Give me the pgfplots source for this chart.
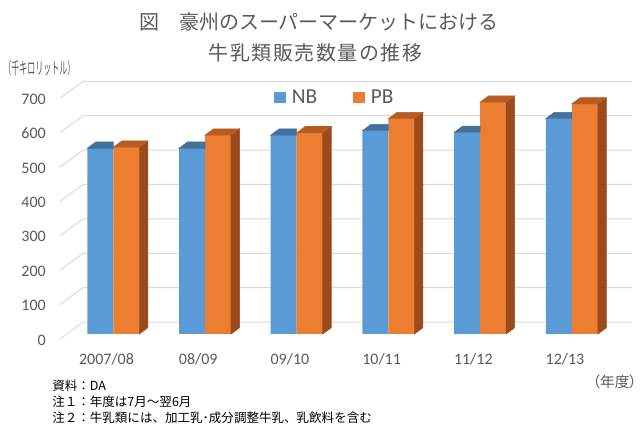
\documentclass[border=0pt]{standalone}
\usepackage{fontspec}
\setmainfont{Carlito}
\newfontfamily\jp{Noto Sans CJK JP}
\newfontfamily\jpp[RawFeature=+palt]{Noto Sans CJK JP}
\usepackage{graphicx}
\usepackage{pgfplots}
\usepackage{pgfplotstable}
\pgfplotsset{compat=1.18}
\definecolor{nbf}{HTML}{5B9BD5}
\definecolor{nbt}{HTML}{41719C}
\definecolor{pbf}{HTML}{ED7D31}
\definecolor{pbt}{HTML}{B55D22}
\definecolor{pbs}{HTML}{9B4A1B}
\definecolor{gridc}{HTML}{D9D9D9}
\definecolor{txt}{HTML}{595959}
\pgfplotstableread{
x nb pb
0 540 543
1 540 578
2 578 585
3 591 626
4 586 674
5 626 669
}\data
\begin{document}
\begin{tikzpicture}
\useasboundingbox (0,0) rectangle (481.5pt,325.5pt);
\begin{axis}[
  at={(50.25pt,75pt)}, anchor=south west,
  x=68.775pt, y=0.258pt,
  xmin=-0.505, xmax=5.482, ymin=0, ymax=700,
  clip=false,
  axis line style={draw=none},
  tick style={draw=none},
  major tick length=0pt,
  ytick={0,100,...,700},
  xtick={0,...,5},
  xticklabels={2007/08,08/09,09/10,10/11,11/12,12/13},
  /pgf/number format/assume math mode=true,
  tick label style={font=\fontsize{12}{14}\selectfont, text=txt},
  yticklabel style={inner sep=0pt, anchor=base east, xshift=-15.75pt, yshift=-8.4pt},
  xticklabel style={inner sep=0pt, anchor=base, xshift=-5.1pt, yshift=-23.25pt},
  legend columns=2,
  legend style={at={(0.486,0.982)}, anchor=center, draw=none, fill=none,
    inner sep=0pt, outer sep=0pt,
    font=\fontsize{16}{18}\selectfont, text=txt,
    nodes={inner sep=0pt},
    /tikz/every odd column/.append style={column sep=4.5pt},
    /tikz/every even column/.append style={column sep=27pt}},
  legend image code/.code={\fill[#1, draw=none] (0pt,-4.4pt) rectangle (8.8pt,4.4pt);},
]
\pgfplotsinvokeforeach{0,100,...,700}{
  \draw[gridc, line width=0.75pt] ([shift={(-5.25pt,-3.75pt)}]axis cs:-0.505,#1) -- ([shift={(12.08pt,8.93pt)}]axis cs:-0.505,#1) -- ([shift={(12.08pt,8.93pt)}]axis cs:5.482,#1);
}
\addplot[ybar, bar width=19.5pt, bar shift=-9.75pt, fill=nbf, draw=none] table[x=x,y=nb]{\data};
\addlegendentry{NB}
\addplot[forget plot, only marks, mark=*, mark size=0pt, mark options={draw=none,fill=none},
  scatter, scatter/@pre marker code/.code={%
    \fill[nbt] (-19.5pt,0pt) -- (0pt,0pt) -- (0pt,4.7pt) -- (-13.1pt,4.7pt) -- cycle;
  },
  scatter/@post marker code/.code={}
] table[x=x,y=nb]{\data};
\addplot[ybar, bar width=19.5pt, bar shift=9.75pt, fill=pbf, draw=none] table[x=x,y=pb]{\data};
\addlegendentry{PB}
\addplot[forget plot, only marks, mark=*, mark size=0pt, mark options={draw=none,fill=none},
  visualization depends on={rawy \as \hv},
  scatter, scatter/@pre marker code/.code={%
    \pgfmathsetmacro\hh{\hv*0.258}%
    \fill[pbs] (19.5pt,0pt) -- (25.9pt,4.7pt) -- (25.9pt,4.7pt-\hh pt) -- (19.5pt,-\hh pt) -- cycle;
    \fill[pbt] (0pt,0pt) -- (19.5pt,0pt) -- (25.9pt,4.7pt) -- (6.4pt,4.7pt) -- cycle;
  },
  scatter/@post marker code/.code={}
] table[x=x,y=pb]{\data};
\end{axis}
\node[text=txt, font=\jp\fontsize{15}{18}\selectfont, inner sep=0pt] at (239.25pt,309pt) {図　豪州のスーパーマーケットにおける};
\node[text=txt, font=\jp\fontsize{15}{18}\selectfont\addfontfeature{LetterSpace=7.5}, inner sep=0pt] at (236.6pt,285.75pt) {牛乳類販売数量の推移};
\node[text=txt, anchor=west, inner sep=0pt] at (2.25pt,274.5pt) {\scalebox{0.48}[1]{\jp\fontsize{12.5}{14}\selectfont （千キロリットル）}};
\node[text=txt, anchor=east, inner sep=0pt, font=\jpp\fontsize{11}{13}\selectfont] at (477.75pt,39pt) {（年度）};
\node[anchor=west, inner sep=0pt, font=\jp\fontsize{9.4}{11}\selectfont] at (39pt,36.5pt) {資料：DA};
\node[anchor=west, inner sep=0pt, font=\jp\fontsize{9.4}{11}\selectfont] at (39pt,24pt) {注１：年度は7月～翌6月};
\node[anchor=west, inner sep=0pt, font=\jp\fontsize{9.4}{11}\selectfont] at (39pt,12pt) {注２：牛乳類には、加工乳･成分調整牛乳、乳飲料を含む};
\end{tikzpicture}
\end{document}
